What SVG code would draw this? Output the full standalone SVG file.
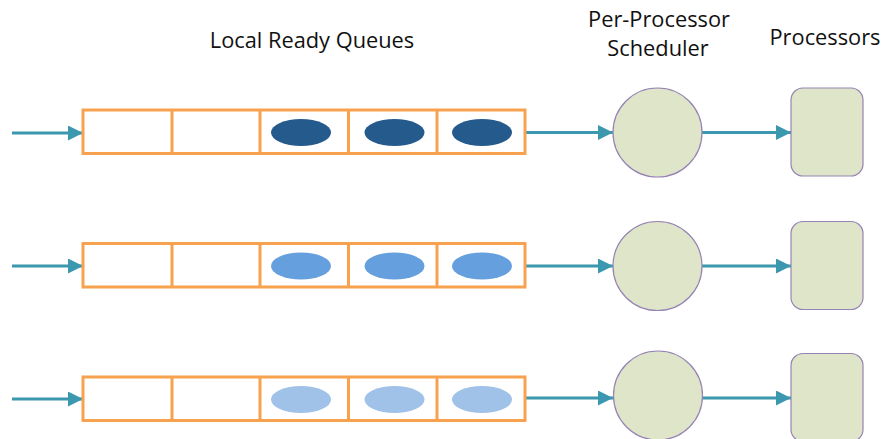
<svg xmlns="http://www.w3.org/2000/svg" width="882" height="439" viewBox="0 0 882 439">
<defs>
<marker id="ah" markerWidth="16" markerHeight="16" refX="15" refY="7.5" orient="auto" markerUnits="userSpaceOnUse">
<path d="M0,0 L15,7.5 L0,15 Z" fill="#3B98AE"/>
</marker>
</defs>
<style>
.lbl{font-family:"Open Sans","Liberation Sans",sans-serif;font-size:21.8px;fill:#111}
.q{fill:#fff;stroke:#F8A14F;stroke-width:3}
.c{stroke:#F8A14F;stroke-width:3}
.a{stroke:#3B98AE;stroke-width:3;fill:none;marker-end:url(#ah)}
.s{fill:#DEE5C8;stroke:#9683B4;stroke-width:1.2}
.e1{fill:#255A8D}
.e2{fill:#659FDD}
.e3{fill:#A0C2E9}
</style>
<g id="titles">
<text class="lbl" x="312" y="48" text-anchor="middle">Local Ready Queues</text>
<text class="lbl" x="659" y="27" text-anchor="middle">Per-Processor</text>
<text class="lbl" x="658" y="56" text-anchor="middle">Scheduler</text>
<text class="lbl" x="825" y="45" text-anchor="middle">Processors</text>
</g>
<g id="connectors">
<line class="a" x1="12" y1="133" x2="83" y2="133"/>
<line class="a" x1="525" y1="132.5" x2="613" y2="132.5"/>
<line class="a" x1="702" y1="132.5" x2="791" y2="132.5"/>
<line class="a" x1="12" y1="266" x2="83" y2="266"/>
<line class="a" x1="525" y1="266" x2="613" y2="266"/>
<line class="a" x1="702" y1="266" x2="791" y2="266"/>
<line class="a" x1="12" y1="399" x2="83" y2="399"/>
<line class="a" x1="525" y1="398" x2="613" y2="398"/>
<line class="a" x1="702" y1="398" x2="791" y2="398"/>
</g>
<g id="queue1">
<rect class="q" x="83" y="110" width="442" height="43.5"/>
<line class="c" x1="172" y1="110" x2="172" y2="153.5"/>
<line class="c" x1="260" y1="110" x2="260" y2="153.5"/>
<line class="c" x1="348.5" y1="110" x2="348.5" y2="153.5"/>
<line class="c" x1="437" y1="110" x2="437" y2="153.5"/>
<ellipse class="e1" cx="301" cy="132.5" rx="30" ry="13.5"/>
<ellipse class="e1" cx="394.5" cy="132.5" rx="30" ry="13.5"/>
<ellipse class="e1" cx="482" cy="132.5" rx="30" ry="13.5"/>
</g>
<g id="queue2">
<rect class="q" x="83" y="243.5" width="442" height="43.5"/>
<line class="c" x1="172" y1="243.5" x2="172" y2="287"/>
<line class="c" x1="260" y1="243.5" x2="260" y2="287"/>
<line class="c" x1="348.5" y1="243.5" x2="348.5" y2="287"/>
<line class="c" x1="437" y1="243.5" x2="437" y2="287"/>
<ellipse class="e2" cx="301" cy="266" rx="30" ry="13.5"/>
<ellipse class="e2" cx="394.5" cy="266" rx="30" ry="13.5"/>
<ellipse class="e2" cx="482" cy="266" rx="30" ry="13.5"/>
</g>
<g id="queue3">
<rect class="q" x="83" y="377" width="442" height="43.5"/>
<line class="c" x1="172" y1="377" x2="172" y2="420.5"/>
<line class="c" x1="260" y1="377" x2="260" y2="420.5"/>
<line class="c" x1="348.5" y1="377" x2="348.5" y2="420.5"/>
<line class="c" x1="437" y1="377" x2="437" y2="420.5"/>
<ellipse class="e3" cx="301" cy="399.5" rx="30" ry="13.5"/>
<ellipse class="e3" cx="394.5" cy="399.5" rx="30" ry="13.5"/>
<ellipse class="e3" cx="482" cy="399.5" rx="30" ry="13.5"/>
</g>
<g id="scheduler1"><circle class="s" cx="657.5" cy="132.5" r="44.5"/></g>
<g id="scheduler2"><circle class="s" cx="657.5" cy="266" r="44.5"/></g>
<g id="scheduler3"><circle class="s" cx="658" cy="395.5" r="44.5"/></g>
<g id="processor1"><rect class="s" x="791" y="88" width="72" height="88" rx="12"/></g>
<g id="processor2"><rect class="s" x="791" y="221.5" width="72" height="88" rx="12"/></g>
<g id="processor3"><rect class="s" x="791" y="353.5" width="72" height="88" rx="12"/></g>
</svg>
